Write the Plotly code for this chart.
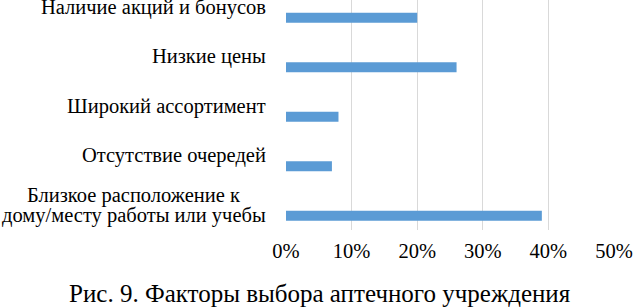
import plotly.graph_objects as go

# Data (bottom to top)
categories = [
    "Близкое расположение к<br>дому/месту работы или учебы",
    "Отсутствие очередей",
    "Широкий ассортимент",
    "Низкие цены",
    "Наличие акций и бонусов",
]
values = [39, 7, 8, 26, 20]
x_ticks = [0, 10, 20, 30, 40, 50]
x_tick_labels = ["0%", "10%", "20%", "30%", "40%", "50%"]
caption = "Рис. 9. Факторы выбора аптечного учреждения"

FONT = "Liberation Serif"
LABEL_SIZE = 20.5

fig = go.Figure()
fig.add_trace(go.Bar(
    y=list(range(len(categories))),
    x=values,
    orientation="h",
    marker=dict(color="#5b9bd5", line=dict(width=0)),
    width=0.202,
    offset=-0.313,
    hoverinfo="skip",
))

for i, c in enumerate(categories):
    lines = c.split("<br>")
    if len(lines) == 1:
        fig.add_annotation(
            x=0, xref="paper", xanchor="right", xshift=-18,
            y=i, yref="y", yanchor="middle",
            text=c, showarrow=False,
            font=dict(family=FONT, size=LABEL_SIZE, color="#000000"),
        )
    else:
        # two tightly spaced, centre-aligned lines
        fig.add_annotation(
            x=0, xref="paper", xanchor="right", xshift=-18 - 26,
            y=i, yref="y", yanchor="middle", yshift=10,
            text=lines[0], showarrow=False,
            font=dict(family=FONT, size=LABEL_SIZE, color="#000000"),
        )
        fig.add_annotation(
            x=0, xref="paper", xanchor="right", xshift=-18,
            y=i, yref="y", yanchor="middle", yshift=-10,
            text=lines[1], showarrow=False,
            font=dict(family=FONT, size=LABEL_SIZE, color="#000000"),
        )

fig.add_annotation(
    x=0.1037, xref="paper", xanchor="center",
    y=-0.274, yref="paper", yanchor="middle",
    text=caption, showarrow=False,
    font=dict(family=FONT, size=25, color="#000000"),
)

fig.update_layout(
    width=633, height=308,
    margin=dict(l=286, r=19, t=0, b=78, pad=0),
    paper_bgcolor="white", plot_bgcolor="white",
    showlegend=False,
    font=dict(family=FONT, size=LABEL_SIZE, color="#000000"),
    xaxis=dict(
        range=[0, 50], tickmode="array", tickvals=x_ticks, ticktext=x_tick_labels,
        showgrid=True, gridcolor="#d9d9d9", gridwidth=1,
        zeroline=False, showline=False,
        ticks="outside", ticklen=2, tickcolor="rgba(0,0,0,0)",
        tickfont=dict(family=FONT, size=LABEL_SIZE, color="#000000"),
    ),
    yaxis=dict(
        range=[-0.5, 4.146], showticklabels=False, showgrid=False,
        zeroline=False, showline=False, ticks="",
    ),
)

fig.write_html(
    "out.html",
    config={"displayModeBar": False},
    post_script="document.body.style.margin='0';document.body.style.overflow='hidden';",
)
